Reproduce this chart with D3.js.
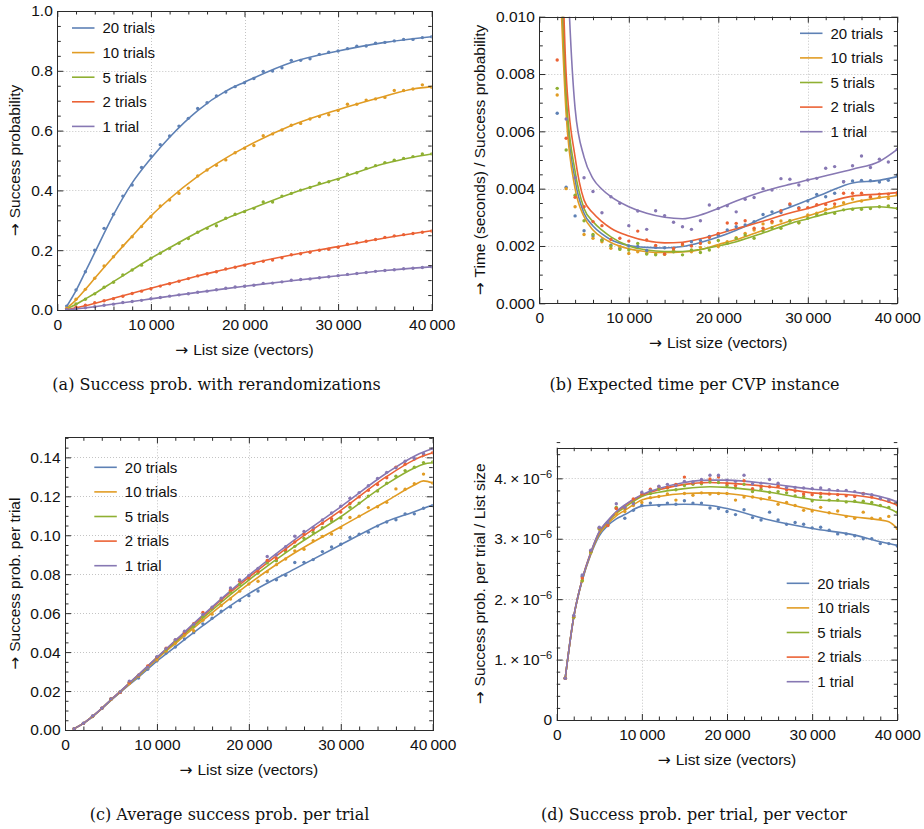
<!DOCTYPE html>
<html>
<head>
<meta charset="utf-8">
<script src="https://cdn.jsdelivr.net/npm/d3@7"></script>
<style>
  body { margin: 0; background: #fff; }
  svg text { font-family: "Liberation Sans", Arial, sans-serif; fill: #111; }
  svg text.caption { font-family: "DejaVu Serif", serif; }
  svg tspan.arrow { font-family: "DejaVu Sans", sans-serif; }
</style>
</head>
<body>
<svg id="chart" width="924" height="829"></svg>
<script>
/* global d3 */

// ---- data ----
const LIST_SIZES = [1000, 2000, 3000, 4000, 5000, 6000, 7000, 8000, 9000, 10000,
  11000, 12000, 13000, 14000, 15000, 16000, 17000, 18000, 19000, 20000,
  21000, 22000, 23000, 24000, 25000, 26000, 27000, 28000, 29000, 30000,
  31000, 32000, 33000, 34000, 35000, 36000, 37000, 38000, 39000, 40000];
const SERIES_NAMES = ["20 trials", "10 trials", "5 trials", "2 trials", "1 trial"];
const SERIES_COLORS = ["#5e81b5", "#e19c24", "#8fb032", "#eb6235", "#8778b3"];

// (a) success probability, rows follow SERIES_NAMES
const A_DOTS = [
  [0.013, 0.067, 0.128, 0.200, 0.273, 0.320, 0.381, 0.418, 0.477, 0.515, 0.553, 0.582, 0.615, 0.641, 0.674, 0.693, 0.716, 0.729, 0.747, 0.760,
   0.774, 0.798, 0.799, 0.810, 0.835, 0.835, 0.840, 0.855, 0.862, 0.866, 0.874, 0.882, 0.883, 0.892, 0.895, 0.900, 0.905, 0.905, 0.911, 0.914],
  [0.006, 0.036, 0.069, 0.106, 0.147, 0.178, 0.215, 0.245, 0.279, 0.312, 0.348, 0.368, 0.390, 0.407, 0.448, 0.468, 0.484, 0.502, 0.526, 0.541,
   0.550, 0.583, 0.589, 0.602, 0.618, 0.624, 0.639, 0.647, 0.653, 0.667, 0.688, 0.688, 0.702, 0.706, 0.711, 0.734, 0.734, 0.739, 0.753, 0.745],
  [0.002, 0.020, 0.036, 0.054, 0.076, 0.093, 0.117, 0.134, 0.150, 0.173, 0.190, 0.206, 0.223, 0.239, 0.260, 0.273, 0.282, 0.307, 0.320, 0.329,
   0.340, 0.361, 0.361, 0.381, 0.390, 0.401, 0.410, 0.424, 0.429, 0.437, 0.454, 0.459, 0.473, 0.483, 0.493, 0.501, 0.507, 0.513, 0.522, 0.522],
  [0.002, 0.009, 0.016, 0.024, 0.031, 0.038, 0.046, 0.055, 0.063, 0.071, 0.080, 0.088, 0.096, 0.105, 0.114, 0.121, 0.128, 0.137, 0.143, 0.150,
   0.156, 0.163, 0.167, 0.175, 0.185, 0.188, 0.193, 0.200, 0.203, 0.210, 0.220, 0.225, 0.230, 0.236, 0.243, 0.248, 0.252, 0.256, 0.260, 0.264],
  [0.0007, 0.0035, 0.0072, 0.0112, 0.0160, 0.0196, 0.0251, 0.0282, 0.0322, 0.0377, 0.0418, 0.0464, 0.0507, 0.0543, 0.0593, 0.0630, 0.0677, 0.0729, 0.0770, 0.0794,
   0.0830, 0.0891, 0.0899, 0.0941, 0.0995, 0.1019, 0.1040, 0.1078, 0.1114, 0.1149, 0.1190, 0.1219, 0.1254, 0.1292, 0.1323, 0.1346, 0.1380, 0.1395, 0.1420, 0.1444],
];
const A_CURVE_X = [1000, 2000, 3000, 4000, 6000, 8000, 10000, 12000, 15000, 18000, 20000, 25000, 30000, 35000, 38000, 40000];
const A_CURVES = [
  [0.012, 0.065, 0.128, 0.192, 0.318, 0.425, 0.507, 0.578, 0.667, 0.732, 0.762, 0.828, 0.866, 0.895, 0.907, 0.914],
  [0.006, 0.034, 0.069, 0.106, 0.178, 0.247, 0.314, 0.372, 0.447, 0.508, 0.543, 0.617, 0.670, 0.715, 0.739, 0.747],
  [0.003, 0.019, 0.037, 0.055, 0.095, 0.134, 0.173, 0.208, 0.260, 0.305, 0.330, 0.390, 0.439, 0.490, 0.511, 0.522],
  [0.001, 0.007, 0.014, 0.022, 0.039, 0.056, 0.073, 0.089, 0.114, 0.136, 0.151, 0.184, 0.212, 0.241, 0.256, 0.265],
  [0.0007, 0.0034, 0.0070, 0.0110, 0.0198, 0.0285, 0.0373, 0.0460, 0.0590, 0.0715, 0.0794, 0.0978, 0.1146, 0.1320, 0.1400, 0.1444],
];

// (b) time / success probability (x 2000..40000), values in units of 1e-3 s
const B_SIZES = LIST_SIZES.slice(1);
const B_DOTS = [
  [6.63, 4.05, 3.05, 2.53, 2.35, 2.21, 2.03, 1.92, 2.00, 1.98, 1.84, 1.95, 1.94, 1.92, 2.03, 2.15, 2.19, 2.33, 2.37, 2.56,
   2.67, 2.73, 2.85, 3.10, 3.19, 3.17, 3.43, 3.34, 3.57, 3.80, 3.72, 3.84, 4.24, 4.27, 4.29, 4.28, 4.23, 4.29, 4.48],
  [7.27, 4.00, 3.37, 2.40, 2.27, 2.15, 1.92, 1.98, 1.74, 1.80, 1.74, 1.72, 1.71, 1.84, 2.03, 1.80, 1.95, 2.12, 1.98, 2.15,
   2.29, 2.44, 2.56, 2.77, 2.81, 2.87, 2.88, 2.81, 3.08, 3.14, 3.28, 3.37, 3.51, 3.64, 3.57, 3.70, 3.70, 3.66, 3.80],
  [7.50, 5.35, 3.77, 2.88, 2.40, 2.20, 2.00, 1.88, 1.86, 2.09, 1.72, 1.69, 1.72, 1.80, 1.69, 1.86, 1.77, 1.86, 2.19, 2.09,
   2.26, 2.38, 2.27, 2.52, 2.64, 2.62, 2.87, 2.81, 2.97, 3.08, 3.14, 3.14, 3.26, 3.28, 3.28, 3.31, 3.37, 3.40, 3.31],
  [8.49, 5.76, 3.70, 3.37, 2.85, 2.71, 2.23, 2.27, 2.17, 2.52, 2.21, 2.02, 1.72, 1.91, 2.07, 2.00, 2.09, 2.30, 2.44, 2.80,
   2.79, 2.88, 2.62, 2.62, 2.86, 3.23, 3.47, 3.31, 3.34, 3.44, 3.45, 3.47, 3.84, 3.84, 3.84, 3.72, 3.81, 3.81, 3.86],
  [12.5, 6.43, 4.38, 4.38, 3.90, 3.16, 3.72, 3.49, 2.71, 3.22, 2.58, 3.23, 3.06, 2.83, 2.67, 2.58, 2.88, 3.43, 3.31, 3.40,
   3.19, 3.63, 3.69, 4.00, 3.95, 4.35, 4.33, 4.13, 4.30, 4.36, 4.71, 4.77, 4.24, 4.80, 5.14, 4.74, 5.03, 4.93, 5.37],
];
const B_CURVE_X = [2000, 3000, 4000, 5000, 6000, 7000, 8000, 10000, 12000, 14000, 16000, 18000, 20000, 22000, 25000, 28000, 30000, 32000, 35000, 38000, 40000];
const B_CURVES = [
  [16.0, 7.0, 4.30, 3.14, 2.70, 2.42, 2.22, 2.02, 1.95, 1.93, 1.98, 2.12, 2.31, 2.55, 2.98, 3.35, 3.60, 3.85, 4.20, 4.29, 4.42],
  [14.0, 6.6, 4.00, 3.02, 2.56, 2.30, 2.12, 1.90, 1.80, 1.77, 1.79, 1.87, 2.05, 2.22, 2.55, 2.87, 3.05, 3.25, 3.52, 3.68, 3.76],
  [17.0, 7.3, 4.60, 3.31, 2.85, 2.55, 2.32, 2.00, 1.86, 1.81, 1.81, 1.88, 2.00, 2.15, 2.45, 2.78, 2.95, 3.12, 3.31, 3.37, 3.31],
  [20.0, 8.0, 5.10, 3.60, 3.15, 2.85, 2.62, 2.35, 2.18, 2.11, 2.13, 2.25, 2.42, 2.60, 2.86, 3.15, 3.31, 3.50, 3.74, 3.81, 3.86],
  [25.0, 13.0, 6.80, 5.10, 4.35, 3.98, 3.72, 3.37, 3.14, 3.00, 2.95, 3.08, 3.31, 3.57, 3.90, 4.15, 4.30, 4.45, 4.68, 4.95, 5.37],
];

// (c) success probability per trial
const C_DOTS = [
  [0.0007, 0.0034, 0.0071, 0.0111, 0.0158, 0.0193, 0.0245, 0.0267, 0.0312, 0.0355, 0.0395, 0.0426, 0.0467, 0.0500, 0.0545, 0.0574, 0.0610, 0.0632, 0.0665, 0.0690,
   0.0714, 0.0766, 0.0771, 0.0794, 0.0860, 0.0861, 0.0875, 0.0916, 0.0940, 0.0954, 0.0989, 0.1005, 0.1016, 0.1047, 0.1068, 0.1080, 0.1110, 0.1110, 0.1139, 0.1152],
  [0.0007, 0.0034, 0.0069, 0.0111, 0.0158, 0.0194, 0.0239, 0.0276, 0.0320, 0.0360, 0.0405, 0.0444, 0.0486, 0.0510, 0.0563, 0.0595, 0.0639, 0.0673, 0.0713, 0.0750,
   0.0764, 0.0812, 0.0849, 0.0878, 0.0920, 0.0928, 0.0972, 0.0994, 0.1006, 0.1038, 0.1091, 0.1098, 0.1142, 0.1146, 0.1169, 0.1238, 0.1236, 0.1265, 0.1314, 0.1268],
  [0.0007, 0.0034, 0.0069, 0.0111, 0.0159, 0.0195, 0.0246, 0.0280, 0.0324, 0.0372, 0.0413, 0.0458, 0.0499, 0.0533, 0.0582, 0.0624, 0.0665, 0.0709, 0.0747, 0.0776,
   0.0806, 0.0858, 0.0869, 0.0917, 0.0943, 0.0983, 0.1015, 0.1039, 0.1073, 0.1089, 0.1144, 0.1165, 0.1201, 0.1227, 0.1267, 0.1303, 0.1332, 0.1349, 0.1373, 0.1376],
  [0.0007, 0.0034, 0.0071, 0.0112, 0.0159, 0.0193, 0.0245, 0.0281, 0.0329, 0.0374, 0.0420, 0.0463, 0.0501, 0.0546, 0.0603, 0.0627, 0.0668, 0.0718, 0.0764, 0.0782,
   0.0815, 0.0871, 0.0881, 0.0926, 0.0965, 0.1006, 0.1029, 0.1061, 0.1085, 0.1119, 0.1163, 0.1197, 0.1231, 0.1261, 0.1295, 0.1350, 0.1365, 0.1391, 0.1412, 0.1424],
  [0.0007, 0.0035, 0.0072, 0.0112, 0.0160, 0.0196, 0.0251, 0.0282, 0.0322, 0.0377, 0.0418, 0.0464, 0.0507, 0.0543, 0.0593, 0.0630, 0.0677, 0.0729, 0.0770, 0.0794,
   0.0830, 0.0891, 0.0899, 0.0941, 0.0995, 0.1019, 0.1040, 0.1078, 0.1114, 0.1149, 0.1190, 0.1219, 0.1254, 0.1292, 0.1323, 0.1346, 0.1380, 0.1395, 0.1420, 0.1444],
];
const CD_CURVE_X = [1000, 2000, 3000, 4000, 5000, 6000, 7000, 8000, 10000, 12000, 15000, 18000, 20000, 25000, 30000, 35000, 38000, 39000, 40000];
const C_CURVES = [
  [0.00069, 0.0034, 0.00693, 0.01096, 0.01525, 0.01932, 0.02331, 0.0272, 0.0354, 0.04272, 0.05355, 0.0639, 0.0700, 0.08275, 0.0951, 0.1071, 0.1121, 0.11388, 0.1156],
  [0.00069, 0.0034, 0.00696, 0.0110, 0.0154, 0.0195, 0.02366, 0.02776, 0.0364, 0.0444, 0.05625, 0.06768, 0.0750, 0.0910, 0.1044, 0.1176, 0.12578, 0.12792, 0.1268],
  [0.00069, 0.00342, 0.00699, 0.01104, 0.0155, 0.01968, 0.02394, 0.02816, 0.0370, 0.04524, 0.05745, 0.06948, 0.0770, 0.09425, 0.1095, 0.12635, 0.13452, 0.1365, 0.1372],
  [0.00069, 0.00342, 0.00699, 0.01108, 0.01555, 0.01974, 0.02408, 0.0284, 0.0372, 0.04572, 0.0585, 0.07074, 0.0784, 0.0965, 0.1128, 0.1302, 0.1387, 0.14079, 0.1424],
  [0.00069, 0.00342, 0.00699, 0.01108, 0.0156, 0.0198, 0.02415, 0.02848, 0.0373, 0.04596, 0.05895, 0.07146, 0.0794, 0.09775, 0.1146, 0.13195, 0.1406, 0.14274, 0.1444],
];

// (d) success probability per trial / list size, in units of 1e-6
const D_DOTS = [
  [0.69, 1.72, 2.38, 2.78, 3.16, 3.22, 3.50, 3.34, 3.47, 3.55, 3.59, 3.55, 3.59, 3.57, 3.63, 3.59, 3.59, 3.51, 3.50, 3.45,
   3.40, 3.48, 3.35, 3.31, 3.44, 3.31, 3.24, 3.27, 3.24, 3.18, 3.19, 3.14, 3.08, 3.08, 3.05, 3.00, 3.00, 2.92, 2.92, 2.88],
  [0.69, 1.70, 2.30, 2.77, 3.16, 3.24, 3.41, 3.45, 3.55, 3.60, 3.68, 3.70, 3.74, 3.64, 3.75, 3.72, 3.76, 3.74, 3.75, 3.75,
   3.64, 3.69, 3.69, 3.66, 3.68, 3.57, 3.60, 3.55, 3.47, 3.46, 3.52, 3.43, 3.46, 3.37, 3.34, 3.44, 3.34, 3.33, 3.37, 3.17],
  [0.69, 1.70, 2.31, 2.78, 3.17, 3.25, 3.52, 3.50, 3.60, 3.72, 3.75, 3.82, 3.84, 3.81, 3.88, 3.90, 3.91, 3.94, 3.93, 3.88,
   3.84, 3.90, 3.78, 3.82, 3.77, 3.78, 3.76, 3.71, 3.70, 3.63, 3.69, 3.64, 3.64, 3.61, 3.62, 3.62, 3.60, 3.55, 3.52, 3.44],
  [0.69, 1.72, 2.35, 2.80, 3.18, 3.22, 3.50, 3.51, 3.66, 3.74, 3.82, 3.86, 3.85, 3.90, 4.02, 3.92, 3.93, 3.99, 4.02, 3.91,
   3.88, 3.96, 3.83, 3.86, 3.86, 3.87, 3.81, 3.79, 3.74, 3.73, 3.75, 3.74, 3.73, 3.71, 3.70, 3.75, 3.69, 3.66, 3.62, 3.56],
  [0.69, 1.73, 2.40, 2.81, 3.19, 3.27, 3.58, 3.52, 3.58, 3.77, 3.80, 3.87, 3.90, 3.88, 3.95, 3.94, 3.98, 4.05, 4.05, 3.97,
   3.95, 4.05, 3.91, 3.92, 3.98, 3.92, 3.85, 3.85, 3.84, 3.83, 3.84, 3.81, 3.80, 3.80, 3.78, 3.74, 3.73, 3.67, 3.64, 3.61],
];
const D_CURVES = [
  [0.69, 1.70, 2.31, 2.74, 3.05, 3.22, 3.33, 3.40, 3.54, 3.56, 3.57, 3.55, 3.50, 3.31, 3.17, 3.06, 2.95, 2.92, 2.89],
  [0.69, 1.70, 2.32, 2.75, 3.08, 3.25, 3.38, 3.47, 3.64, 3.70, 3.75, 3.76, 3.75, 3.64, 3.48, 3.36, 3.31, 3.28, 3.17],
  [0.69, 1.71, 2.33, 2.76, 3.10, 3.28, 3.42, 3.52, 3.70, 3.77, 3.83, 3.86, 3.85, 3.77, 3.65, 3.61, 3.54, 3.50, 3.43],
  [0.69, 1.71, 2.33, 2.77, 3.11, 3.29, 3.44, 3.55, 3.72, 3.81, 3.90, 3.93, 3.92, 3.86, 3.76, 3.72, 3.65, 3.61, 3.56],
  [0.69, 1.71, 2.33, 2.77, 3.12, 3.30, 3.45, 3.56, 3.73, 3.83, 3.93, 3.97, 3.97, 3.91, 3.82, 3.77, 3.70, 3.66, 3.61],
];

const X_MAJOR = [0, 10000, 20000, 30000, 40000];
const X_TITLE = "List size (vectors)";

// ---- drawing ----
const svg = d3.select("#chart");
const MAJOR_TICK = 6;
const MINOR_TICK = 3.5;
const LEGEND_STEP = 24.6;
const LABEL_SIZE = "15.5px";

function minorTicks(max, step, majorStep) {
  const n = Math.round(max / step);
  return d3.range(0, n + 1)
    .filter((i) => Math.round(i * step) % majorStep !== 0)
    .map((i) => i * step);
}

const fmtX = (d) => (d === 0 ? "0" : d3.format(",")(d).replace(",", "\u2009"));

// "→ title" with a full-size arrow glyph
function arrowTitle(sel, title) {
  sel.append("tspan").attr("class", "arrow").text("\u2192 ");
  sel.append("tspan").text(title);
}

function drawPanel(p) {
  const x = d3.scaleLinear().domain([0, 40000]).range([p.left, p.right]);
  const y = d3.scaleLinear().domain([0, p.yMax]).range([p.bottom, p.top]);
  const g = svg.append("g");

  const clipId = `clip-${p.id}`;
  g.append("clipPath").attr("id", clipId)
    .append("rect")
    .attr("x", p.left).attr("y", p.top)
    .attr("width", p.right - p.left).attr("height", p.bottom - p.top);

  // dotted grid at major ticks
  const grid = g.append("g").attr("stroke", "#c4c4c4").attr("stroke-dasharray", "1,2");
  X_MAJOR.filter((v) => v > 0 && v < 40000).forEach((v) => {
    grid.append("line")
      .attr("x1", Math.round(x(v)) + 0.5).attr("x2", Math.round(x(v)) + 0.5)
      .attr("y1", p.top).attr("y2", p.bottom);
  });
  p.yMajor.filter((v) => v > 0 && y(v) > p.top + 1).forEach((v) => {
    grid.append("line")
      .attr("y1", Math.round(y(v)) + 0.5).attr("y2", Math.round(y(v)) + 0.5)
      .attr("x1", p.left).attr("x2", p.right);
  });

  const plot = g.append("g").attr("clip-path", `url(#${clipId})`);
  const line = d3.line()
    .x((d) => x(d[0]))
    .y((d) => y(d[1]))
    .curve(d3.curveMonotoneX);

  p.curves.forEach((vals, i) => {
    plot.append("path")
      .datum(p.curveX.map((xv, j) => [xv, vals[j] * p.scale]))
      .attr("fill", "none")
      .attr("stroke", SERIES_COLORS[i])
      .attr("stroke-width", 1.6)
      .attr("d", line);
  });

  p.dots.forEach((vals, i) => {
    plot.append("g").attr("fill", SERIES_COLORS[i])
      .selectAll("circle")
      .data(p.dotX.map((xv, j) => [xv, vals[j] * p.scale]))
      .join("circle")
      .attr("cx", (d) => x(d[0]))
      .attr("cy", (d) => y(d[1]))
      .attr("r", 1.7);
  });

  // axes with inward ticks on all four sides
  const xMinor = minorTicks(40000, 2000, 10000);
  const axes = g.append("g").attr("color", "#2b2b2b");
  const styleAxis = (sel) => {
    sel.select(".domain").remove();
    sel.selectAll("text").attr("font-family", null).attr("font-size", null).style("font-size", LABEL_SIZE);
  };

  axes.append("g").attr("transform", `translate(0,${p.bottom})`)
    .call(d3.axisBottom(x).tickValues(X_MAJOR).tickSize(-MAJOR_TICK).tickPadding(9).tickFormat(fmtX))
    .call(styleAxis);
  axes.append("g").attr("transform", `translate(0,${p.bottom})`)
    .call(d3.axisBottom(x).tickValues(xMinor).tickSize(-MINOR_TICK).tickFormat(""))
    .call(styleAxis);
  axes.append("g").attr("transform", `translate(0,${p.top})`)
    .call(d3.axisTop(x).tickValues(X_MAJOR).tickSize(-MAJOR_TICK).tickFormat(""))
    .call(styleAxis);
  axes.append("g").attr("transform", `translate(0,${p.top})`)
    .call(d3.axisTop(x).tickValues(xMinor).tickSize(-MINOR_TICK).tickFormat(""))
    .call(styleAxis);

  const yMinor = minorTicks(p.yMax / p.yMinorStep, 1, p.yMinorPer).map((i) => i * p.yMinorStep);
  const yLeft = axes.append("g").attr("transform", `translate(${p.left},0)`)
    .call(d3.axisLeft(y).tickValues(p.yMajor).tickSize(-MAJOR_TICK).tickPadding(4.5).tickFormat(p.yFormat))
    .call(styleAxis);
  axes.append("g").attr("transform", `translate(${p.left},0)`)
    .call(d3.axisLeft(y).tickValues(yMinor).tickSize(-MINOR_TICK).tickFormat(""))
    .call(styleAxis);
  axes.append("g").attr("transform", `translate(${p.right},0)`)
    .call(d3.axisRight(y).tickValues(p.yMajor).tickSize(-MAJOR_TICK).tickFormat(""))
    .call(styleAxis);
  axes.append("g").attr("transform", `translate(${p.right},0)`)
    .call(d3.axisRight(y).tickValues(yMinor).tickSize(-MINOR_TICK).tickFormat(""))
    .call(styleAxis);

  if (p.sciLabels) {
    yLeft.selectAll(".tick text").each(function (d) {
      const t = d3.select(this).text("");
      if (d === 0) { t.text("0"); return; }
      t.append("tspan").text(`${Math.round(d * 1e6)}.\u2009\u00d7\u200910`);
      t.append("tspan").attr("dy", "-0.55em").style("font-size", "11px").text("\u22126");
    });
  }

  // frame
  g.append("rect")
    .attr("x", Math.round(p.left) + 0.5).attr("y", Math.round(p.top) + 0.5)
    .attr("width", Math.round(p.right) - Math.round(p.left))
    .attr("height", Math.round(p.bottom) - Math.round(p.top))
    .attr("fill", "none").attr("stroke", "#2b2b2b").attr("stroke-width", 1);

  // axis titles
  g.append("text")
    .attr("x", (p.left + p.right) / 2).attr("y", p.bottom + 45)
    .attr("text-anchor", "middle").style("font-size", LABEL_SIZE)
    .call(arrowTitle, X_TITLE);
  g.append("text")
    .attr("transform", `translate(${p.yTitleX},${(p.top + p.bottom) / 2}) rotate(-90)`)
    .attr("text-anchor", "middle").style("font-size", LABEL_SIZE)
    .call(arrowTitle, p.yTitle);

  // legend
  const lg = g.append("g").attr("transform", `translate(${p.legend[0]},${p.legend[1]})`);
  SERIES_NAMES.forEach((name, i) => {
    const row = lg.append("g").attr("transform", `translate(0,${i * LEGEND_STEP})`);
    row.append("line").attr("x1", 0).attr("x2", 22.5).attr("y1", 0).attr("y2", 0)
      .attr("stroke", SERIES_COLORS[i]).attr("stroke-width", 1.6);
    row.append("text").attr("x", 30.5).attr("y", 5.3).style("font-size", "15px").text(name);
  });

  // caption
  svg.append("text").attr("class", "caption")
    .attr("x", p.caption[1]).attr("y", p.caption[2])
    .attr("text-anchor", "middle").style("font-size", "16px")
    .text(p.caption[0]);
}

drawPanel({
  id: "a", left: 57.3, right: 431.7, top: 11, bottom: 310,
  yMax: 1, yMajor: [0, 0.2, 0.4, 0.6, 0.8, 1.0], yMinorStep: 0.05, yMinorPer: 4,
  yFormat: d3.format(".1f"), scale: 1,
  dotX: LIST_SIZES, dots: A_DOTS, curveX: A_CURVE_X, curves: A_CURVES,
  yTitle: "Success probability", yTitleX: 19.5,
  legend: [72, 28],
  caption: ["(a) Success prob. with rerandomizations", 216.5, 389.5],
});

drawPanel({
  id: "b", left: 539.3, right: 897.3, top: 16.7, bottom: 303.3,
  yMax: 0.010, yMajor: [0, 0.002, 0.004, 0.006, 0.008, 0.010], yMinorStep: 0.0005, yMinorPer: 4,
  yFormat: d3.format(".3f"), scale: 1e-3,
  dotX: B_SIZES, dots: B_DOTS, curveX: B_CURVE_X, curves: B_CURVES,
  yTitle: "Time (seconds) / Success probability", yTitleX: 484.5,
  legend: [800, 33.3],
  caption: ["(b) Expected time per CVP instance", 694.5, 389.5],
});

drawPanel({
  id: "c", left: 65, right: 432.7, top: 437.3, bottom: 730,
  yMax: 0.1503, yMajor: [0, 0.02, 0.04, 0.06, 0.08, 0.10, 0.12, 0.14], yMinorStep: 0.005, yMinorPer: 4,
  yFormat: d3.format(".2f"), scale: 1,
  dotX: LIST_SIZES, dots: C_DOTS, curveX: CD_CURVE_X, curves: C_CURVES,
  yTitle: "Success prob. per trial", yTitleX: 19.5,
  legend: [94.3, 467.3],
  caption: ["(c) Average success prob. per trial", 229.5, 819.5],
});

drawPanel({
  id: "d", left: 556.7, right: 897.3, top: 447.7, bottom: 720,
  yMax: 4.507e-6, yMajor: [0, 1e-6, 2e-6, 3e-6, 4e-6], yMinorStep: 0.2e-6, yMinorPer: 5,
  yFormat: () => "", sciLabels: true, scale: 1e-6,
  dotX: LIST_SIZES, dots: D_DOTS, curveX: CD_CURVE_X, curves: D_CURVES,
  yTitle: "Success prob. per trial / List size", yTitleX: 484.5,
  legend: [786.7, 583.3],
  caption: ["(d) Success prob. per trial, per vector", 694, 819.5],
});
</script>
</body>
</html>
